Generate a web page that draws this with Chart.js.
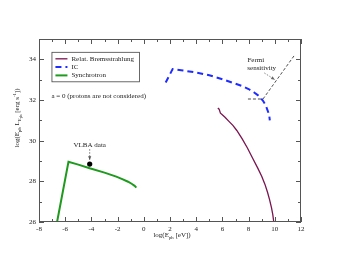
<!DOCTYPE html>
<html><head><meta charset="utf-8">
<script src="https://cdn.jsdelivr.net/npm/chart.js@4/dist/chart.umd.min.js"></script>
<style>html,body{margin:0;padding:0;background:#fff;}canvas{display:block;}</style>
</head><body>
<canvas id="c" width="339" height="262"></canvas>
<script>
// ---- data ----
const xTicks = [-8, -6, -4, -2, 0, 2, 4, 6, 8, 10, 12];
const yTicks = [26, 28, 30, 32, 34];

const bremsX = [5.65, 5.75, 5.85, 5.95, 6.2, 6.5, 6.8, 7.1, 7.5, 7.9, 8.3, 8.7, 9.0, 9.25, 9.45, 9.6, 9.75, 9.85, 9.92];
const bremsY = [31.6, 31.55, 31.35, 31.3, 31.15, 30.95, 30.75, 30.5, 30.1, 29.65, 29.15, 28.65, 28.25, 27.85, 27.45, 27.1, 26.7, 26.35, 26.0];

const icX = [1.67, 2.2, 3.0, 4.0, 5.0, 6.0, 7.0, 7.5, 8.0, 8.4, 8.7, 8.9, 9.1, 9.25, 9.4, 9.5, 9.58, 9.62];
const icY = [32.86, 33.52, 33.45, 33.35, 33.22, 33.02, 32.8, 32.69, 32.54, 32.38, 32.24, 32.12, 31.96, 31.8, 31.58, 31.4, 31.2, 31.0];

const syncX = [-6.62, -5.75, -5.0, -4.13, -3.0, -2.1, -1.6, -1.2, -0.9, -0.7, -0.57];
const syncY = [26.0, 28.96, 28.82, 28.64, 28.43, 28.23, 28.1, 27.98, 27.87, 27.78, 27.69];

const vlbaX = [-4.13];
const vlbaY = [28.85];

const fermiX = [7.95, 9.1, 11.5];
const fermiY = [32.05, 32.05, 34.2];

const legendNames = ["Relat. Bremsstrahlung", "IC", "Synchrotron"];

const pts = (xs, ys) => xs.map((x, i) => ({x, y: ys[i]}));
const FONT = "'Liberation Serif', 'Times New Roman', serif";

const COL_BREMS = '#7a1450';
const COL_IC = '#1f2cff';
const COL_SYNC = '#1e9a1e';

function richText(ctx, parts, x, y, size, align) {
  const sz = l => l === 0 ? size : (l === -2 ? size * 0.55 : size * 0.68);
  const widths = parts.map(p => { ctx.font = sz(p[1]) + 'px ' + FONT; return ctx.measureText(p[0]).width; });
  const total = widths.reduce((a, b) => a + b, 0);
  let cx = align === 'center' ? x - total / 2 : x;
  ctx.textAlign = 'left';
  ctx.textBaseline = 'alphabetic';
  parts.forEach((p, i) => {
    const lvl = p[1];
    const dy = lvl === 0 ? 0 : (lvl === -1 ? size * 0.25 : (lvl === -2 ? size * 0.45 : -size * 0.38));
    ctx.font = sz(lvl) + 'px ' + FONT;
    ctx.fillText(p[0], cx, y + dy);
    cx += widths[i];
  });
}

function arrow(ctx, x1, y1, x2, y2, color) {
  ctx.save();
  ctx.strokeStyle = color; ctx.fillStyle = color;
  ctx.lineWidth = 0.8;
  ctx.setLineDash([1.5, 1.5]);
  ctx.beginPath(); ctx.moveTo(x1, y1); ctx.lineTo(x2, y2); ctx.stroke();
  ctx.setLineDash([]);
  const a = Math.atan2(y2 - y1, x2 - x1), L = 4, w = 0.4;
  ctx.beginPath();
  ctx.moveTo(x2, y2);
  ctx.lineTo(x2 - L * Math.cos(a - w), y2 - L * Math.sin(a - w));
  ctx.lineTo(x2 - L * Math.cos(a + w), y2 - L * Math.sin(a + w));
  ctx.closePath(); ctx.fill();
  ctx.restore();
}

const decor = {
  id: 'decor',
  afterDatasetsDraw(chart) {
    const {ctx, chartArea: ca, scales: {x, y}} = chart;
    ctx.save();
    ctx.strokeStyle = '#555'; ctx.lineWidth = 1;
    ctx.strokeRect(ca.left + 0.5, ca.top + 0.5, ca.right - ca.left - 1, ca.bottom - ca.top - 1);
    ctx.beginPath();
    for (let v = x.min; v <= x.max; v += 1) {
      const px = Math.round(x.getPixelForValue(v)) + 0.5;
      const L = (v % 2 === 0) ? 5 : 3;
      ctx.moveTo(px, ca.bottom); ctx.lineTo(px, ca.bottom - L);
      ctx.moveTo(px, ca.top); ctx.lineTo(px, ca.top + L);
    }
    for (let v = y.min; v <= y.max; v += 1) {
      const py = Math.round(y.getPixelForValue(v)) + 0.5;
      const L = (v % 2 === 0) ? 5 : 3;
      ctx.moveTo(ca.left, py); ctx.lineTo(ca.left + L, py);
      ctx.moveTo(ca.right, py); ctx.lineTo(ca.right - L, py);
    }
    ctx.stroke();

    ctx.fillStyle = '#222';
    richText(ctx, [['log(E', 0], ['ph', -1], [' [eV])', 0]], (ca.left + ca.right) / 2 + 2, ca.bottom + 15, 7, 'center');
    ctx.save();
    ctx.translate(19, 118);
    ctx.rotate(-Math.PI / 2);
    richText(ctx, [['log(E', 0], ['ph', -1], [' L', 0], ['E', -1], ['ph', -2], [' [erg s', 0], ['-1', 1], ['])', 0]], 0, 0, 7, 'center');
    ctx.restore();

    const lx = x.getPixelForValue(-7.05), ly = y.getPixelForValue(34.37);
    const lw = 87.5, lh = 29.5;
    ctx.fillStyle = '#fff';
    ctx.fillRect(lx, ly, lw, lh);
    ctx.strokeStyle = '#444'; ctx.lineWidth = 0.8;
    ctx.strokeRect(lx + 0.5, ly + 0.5, lw, lh);
    chart.data.datasets.slice(0, 3).forEach((ds, i) => {
      const ry = ly + 7 + i * 8.3;
      ctx.strokeStyle = ds.borderColor;
      ctx.lineWidth = ds.borderWidth;
      ctx.setLineDash(ds.borderDash || []);
      ctx.beginPath(); ctx.moveTo(lx + 4, ry); ctx.lineTo(lx + 16, ry); ctx.stroke();
      ctx.setLineDash([]);
      ctx.fillStyle = '#222';
      ctx.font = '7px ' + FONT;
      ctx.textAlign = 'left'; ctx.textBaseline = 'middle';
      ctx.fillText(legendNames[i], lx + 20, ry);
    });

    ctx.fillStyle = '#222';
    ctx.font = '7px ' + FONT;
    ctx.textBaseline = 'middle';
    ctx.textAlign = 'left';
    ctx.fillText('a = 0 (protons are not considered)', x.getPixelForValue(-7.05), y.getPixelForValue(32.2));
    ctx.textAlign = 'center';
    ctx.fillText('VLBA data', x.getPixelForValue(-4.13), y.getPixelForValue(29.8));
    arrow(ctx, x.getPixelForValue(-4.13), y.getPixelForValue(29.58), x.getPixelForValue(-4.13), y.getPixelForValue(29.05), '#555');
    ctx.fillStyle = '#222';
    ctx.fillText('Fermi', x.getPixelForValue(8.55), y.getPixelForValue(33.98));
    ctx.fillText('sensitivity', x.getPixelForValue(9.0), y.getPixelForValue(33.56));
    arrow(ctx, x.getPixelForValue(9.2), y.getPixelForValue(33.33), x.getPixelForValue(10.0), y.getPixelForValue(33.0), '#666');
    ctx.restore();
  }
};

new Chart(document.getElementById('c'), {
  type: 'scatter',
  data: {
    datasets: [
      {label: legendNames[0], data: pts(bremsX, bremsY), showLine: true, borderColor: COL_BREMS, borderWidth: 1.3, pointRadius: 0, tension: 0, fill: false},
      {label: legendNames[1], data: pts(icX, icY), showLine: true, borderColor: COL_IC, borderWidth: 2, borderDash: [6, 4], pointRadius: 0, tension: 0, fill: false},
      {label: legendNames[2], data: pts(syncX, syncY), showLine: true, borderColor: COL_SYNC, borderWidth: 2, pointRadius: 0, tension: 0, fill: false},
      {label: 'VLBA', data: pts(vlbaX, vlbaY), pointRadius: 2.6, backgroundColor: '#000', borderColor: '#000', borderWidth: 0},
      {label: 'Fermi', data: pts(fermiX, fermiY), showLine: true, borderColor: '#222', borderWidth: 0.8, borderDash: [3, 2], pointRadius: 0, tension: 0,
       segment: {borderColor: c => c.p0DataIndex === 0 ? '#888' : '#222', borderWidth: c => c.p0DataIndex === 0 ? 1.5 : 0.8}}
    ]
  },
  options: {
    responsive: false,
    animation: false,
    devicePixelRatio: 1,
    layout: {padding: {top: 39, right: 38, left: 0, bottom: 0}},
    plugins: {legend: {display: false}, tooltip: {enabled: false}},
    scales: {
      x: {
        type: 'linear', min: -8, max: 12,
        afterFit: s => { s.height = 40; },
        afterBuildTicks: s => { s.ticks = xTicks.map(v => ({value: v})); },
        grid: {display: true, drawOnChartArea: false, drawTicks: false},
        border: {display: false},
        ticks: {font: {family: FONT, size: 7}, color: '#222', padding: 3, maxRotation: 0, autoSkip: false}
      },
      y: {
        type: 'linear', min: 26, max: 35,
        afterFit: s => { s.width = 39; },
        afterBuildTicks: s => { s.ticks = yTicks.map(v => ({value: v})); },
        grid: {display: true, drawOnChartArea: false, drawTicks: false},
        border: {display: false},
        ticks: {font: {family: FONT, size: 7}, color: '#222', padding: 3, autoSkip: false}
      }
    }
  },
  plugins: [decor]
});
</script>
</body></html>
